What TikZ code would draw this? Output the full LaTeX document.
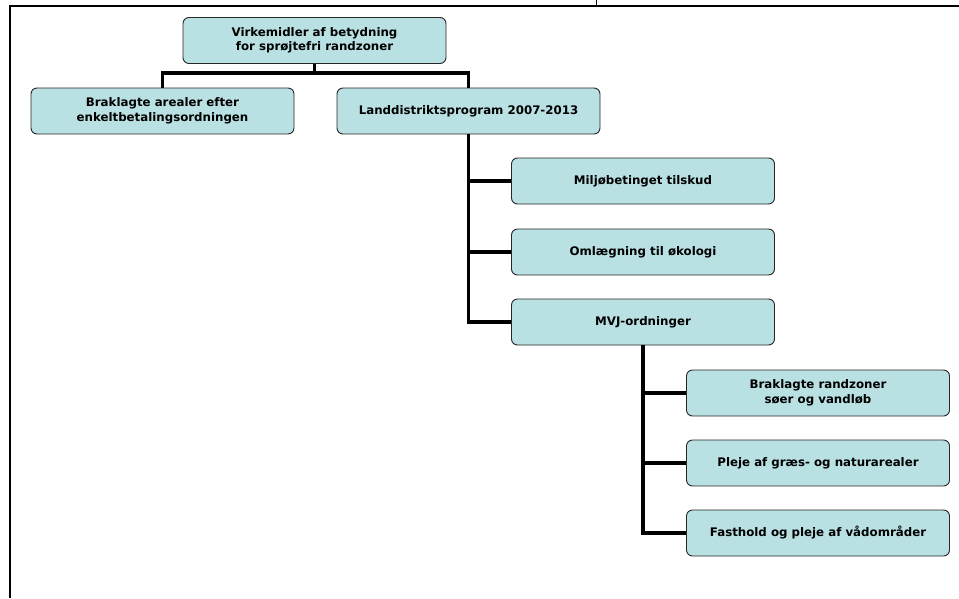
\documentclass[tikz,border=0pt]{standalone}
\usepackage{fontspec}
\setmainfont{DejaVu Sans}
\usepackage{tikz}
\usetikzlibrary{calc, positioning}

\definecolor{boxfill}{HTML}{B9E0E2}

\begin{document}
\begin{tikzpicture}[x=1pt, y=-1pt,
    box/.style={draw=black!85, line width=0.9pt, fill=boxfill, rounded corners=6pt,
        minimum width=263pt, minimum height=46pt, align=center, inner sep=2pt,
        font=\fontsize{11.8}{14.5}\selectfont\bfseries},
    link/.style={line width=3.2pt}]
                \useasboundingbox (0,0) rectangle (959,598);
                \draw[line width=1.2pt] (10,598) -- (10,6) -- (959,6);
                \draw[line width=0.8pt] (596,0) -- (596,6);

                \node[box] (virk) at (314.5,40.5) {Virkemidler af betydning\\ for sprøjtefri randzoner};
                \node[box] (brak) at (162.5,111) {Braklagte arealer efter\\ enkeltbetalingsordningen};
                \node[box] (land) at (468.5,111) {Landdistriktsprogram 2007-2013};
                \node[box] (milj) at (643,181) {Miljøbetinget tilskud};
                \node[box] (oml) at (643,252) {Omlægning til økologi};
                \node[box] (mvj) at (643,322) {MVJ-ordninger};
                \node[box] (rand) at (818,393) {Braklagte randzoner\\ søer og vandløb};
                \node[box] (pleje) at (818,463) {Pleje af græs- og naturarealer};
                \node[box] (fast) at (818,533) {Fasthold og pleje af vådområder};

                \coordinate (split) at ($(virk.south)+(0,9)$);
                \draw[link] (virk.south) -- (split);
                \draw[link] (brak.north) |- (split) -| (land.north);

                \draw[link] (land.south) |- (mvj.west);
                \foreach \n in {milj,oml}
                    \draw[link] (land.south |- \n.west) -- (\n.west);

                \draw[link] (mvj.south) |- (fast.west);
                \foreach \n in {rand,pleje}
                    \draw[link] (mvj.south |- \n.west) -- (\n.west);
            \end{tikzpicture}
\end{document}
